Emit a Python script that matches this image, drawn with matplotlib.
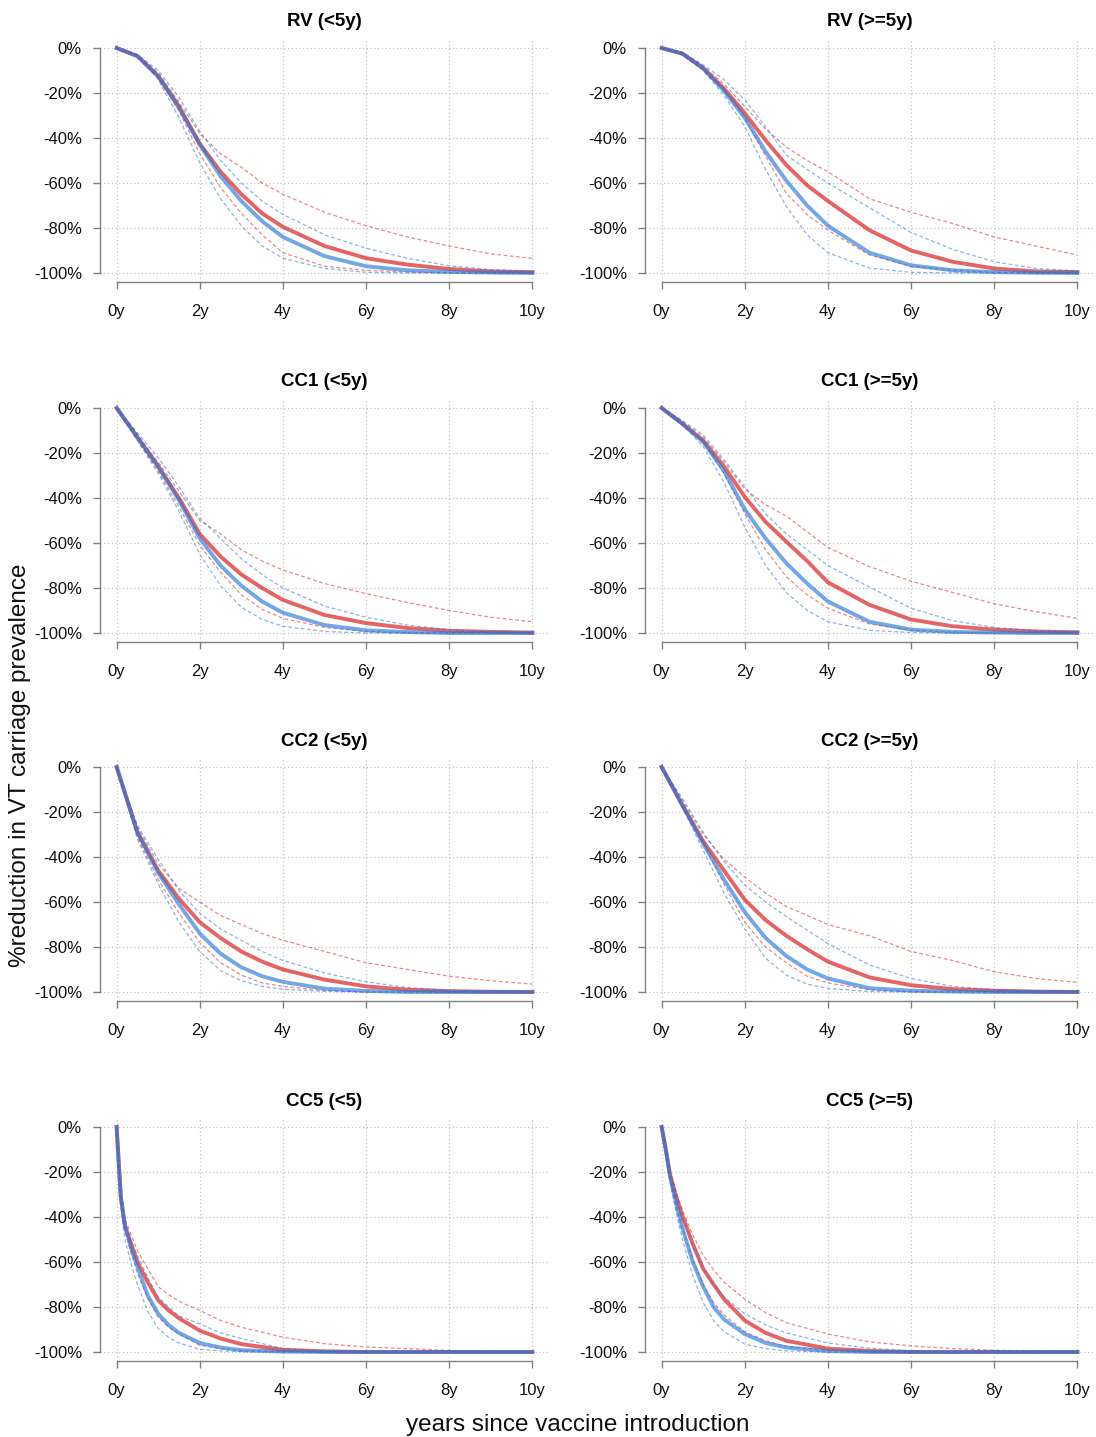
import matplotlib
matplotlib.use('Agg')
import matplotlib.pyplot as plt

plt.rcParams['font.family'] = ['Liberation Sans', 'DejaVu Sans']

# x positions (years) at which the curves were read
years = [0, 0.5, 1, 1.5, 2, 2.5, 3, 3.5, 4, 5, 6, 7, 8, 9, 10]
years_cc5 = [0, 0.1, 0.2, 0.35, 0.5, 0.75, 1, 1.25, 1.5, 2, 2.5, 3, 4, 5, 6, 7, 8, 10]

x_ticks = [0, 2, 4, 6, 8, 10]
x_ticklabels = ['0y', '2y', '4y', '6y', '8y', '10y']
y_ticks = [0, -20, -40, -60, -80, -100]
y_ticklabels = ['0%', '-20%', '-40%', '-60%', '-80%', '-100%']

titles = ['RV (<5y)', 'RV (>=5y)', 'CC1 (<5y)', 'CC1 (>=5y)',
          'CC2 (<5y)', 'CC2 (>=5y)', 'CC5 (<5)', 'CC5 (>=5)']

# RV (<5y)
rv_u5_red = [0, -3.6, -12.5, -26, -42.5, -55, -65, -73.5, -79.5, -88, -93.4, -96.3, -98.2, -99.3, -99.6]
rv_u5_red_hi = [0, -3, -11, -24, -38, -47, -53, -60, -65, -73, -79, -84, -88, -91.5, -93.5]
rv_u5_red_lo = [0, -3.5, -13, -28, -47, -62, -73.5, -83, -91, -97, -98.8, -99.6, -99.9, -100, -100]
rv_u5_blue = [0, -3.6, -12.5, -26.5, -43, -57, -68, -77, -84, -92.5, -97, -98.8, -99.5, -99.8, -100]
rv_u5_blue_hi = [0, -3, -10, -22, -37, -50, -60, -68, -74, -83, -89, -93.5, -96.8, -98.5, -99.3]
rv_u5_blue_lo = [0, -3.5, -14, -31, -51, -67, -79, -88, -93.4, -98, -99.7, -100, -100, -100, -100]

# RV (>=5y)
rv_o5_red = [0, -2.5, -9, -18, -29, -41, -52, -61, -68, -81, -90, -95, -98, -99.3, -99.6]
rv_o5_red_hi = [0, -2, -8, -16, -26, -36, -44, -50, -55, -67, -73, -78, -84, -88, -92]
rv_o5_red_lo = [0, -2.5, -9.5, -19, -31, -48, -64.6, -74, -81, -92, -97, -98.8, -99.7, -100, -100]
rv_o5_blue = [0, -2.5, -9, -19, -31, -46, -59, -70, -79, -91, -96.6, -98.8, -99.6, -99.9, -100]
rv_o5_blue_hi = [0, -2, -7.5, -14, -23, -35, -47.6, -54, -60, -71, -82, -89.5, -95, -98, -99]
rv_o5_blue_lo = [0, -3, -10, -21, -35, -54, -70.5, -83, -91, -97.8, -99.7, -100, -100, -100, -100]

# CC1 (<5y)
cc1_u5_red = [0, -13, -26, -40, -56, -66, -74, -80, -85.3, -92, -95.6, -97.8, -99, -99.5, -99.8]
cc1_u5_red_hi = [0, -12, -24, -37, -50, -56, -63, -68, -72, -78, -82.5, -86.5, -90, -93, -95]
cc1_u5_red_lo = [0, -14, -28, -44, -61, -73, -83, -89.5, -93.5, -97.5, -99.3, -99.8, -100, -100, -100]
cc1_u5_blue = [0, -13, -26, -41, -58, -70, -79, -86, -91, -96.5, -98.8, -99.6, -100, -100, -100]
cc1_u5_blue_hi = [0, -11, -22, -35, -49, -58, -67, -74, -80, -88, -93, -96.5, -98.5, -99.5, -99.8]
cc1_u5_blue_lo = [0, -14.5, -29, -46, -65, -79, -88.5, -94, -97, -99.3, -100, -100, -100, -100, -100]

# CC1 (>=5y)
cc1_o5_red = [0, -7, -14.5, -26, -39.5, -50.6, -59.4, -68, -77.5, -87.5, -94, -97, -98.5, -99.3, -99.7]
cc1_o5_red_hi = [0, -6, -13, -24, -36, -43, -48, -55, -62, -70.5, -77, -82, -87, -90.5, -93.5]
cc1_o5_red_lo = [0, -7, -15, -29, -47, -63, -75, -83, -89, -96, -98.8, -99.6, -100, -100, -100]
cc1_o5_blue = [0, -7, -15, -28, -45, -58, -69, -78, -86, -95, -98.5, -99.5, -99.8, -100, -100]
cc1_o5_blue_hi = [0, -5.5, -12, -23, -35, -47, -56, -63, -70, -79.6, -89, -94.5, -97.5, -99, -99.5]
cc1_o5_blue_lo = [0, -7.5, -17, -33, -53, -70, -82, -90, -95, -98.8, -99.8, -100, -100, -100, -100]

# CC2 (<5y)
cc2_u5_red = [0, -29, -46, -58.5, -69, -76, -82, -86.5, -90, -94.5, -97.5, -99, -99.6, -99.9, -100]
cc2_u5_red_hi = [0, -27, -43, -54, -60, -66, -70, -74, -77, -82, -87, -90, -93, -95, -96.5]
cc2_u5_red_lo = [0, -31, -50, -65, -78, -87, -92.5, -96, -97.5, -99.3, -100, -100, -100, -100, -100]
cc2_u5_blue = [0, -29, -47, -61, -74, -83, -89, -93, -95.5, -98.5, -99.5, -100, -100, -100, -100]
cc2_u5_blue_hi = [0, -26, -41, -55, -65, -72, -77, -82, -86, -91.5, -95.5, -98, -99.3, -99.8, -100]
cc2_u5_blue_lo = [0, -32, -52, -69, -82, -90.5, -95, -97.5, -98.8, -99.7, -100, -100, -100, -100, -100]

# CC2 (>=5y)
cc2_o5_red = [0, -17, -33, -46, -59, -68, -75, -81, -86.5, -93.5, -97, -98.7, -99.4, -99.8, -100]
cc2_o5_red_hi = [0, -15, -30, -41, -49, -56, -62, -66, -70, -75, -82, -86, -91, -94, -95.7]
cc2_o5_red_lo = [0, -17, -34, -52, -69, -80, -87, -93, -96, -99, -99.8, -100, -100, -100, -100]
cc2_o5_blue = [0, -17, -34, -50, -64.5, -76, -84, -90, -94, -98.3, -99.4, -99.8, -100, -100, -100]
cc2_o5_blue_hi = [0, -14, -29, -42, -52.5, -60, -66.5, -72.5, -78.5, -88, -94, -97.5, -99, -99.6, -100]
cc2_o5_blue_lo = [0, -18, -37, -56, -72, -85, -92.5, -96.5, -98.4, -99.8, -100, -100, -100, -100, -100]

# CC5 (<5)
cc5_u5_red = [0, -31, -44, -52, -60, -69, -77, -81.5, -85, -90.5, -94, -96.5, -99, -99.7, -100, -100, -100, -100]
cc5_u5_red_hi = [0, -29, -41, -48, -55, -63, -71, -74.5, -77.5, -81.5, -86, -89, -93.4, -96.3, -97.8, -98.5, -99.3, -100]
cc5_u5_red_lo = [0, -32, -46, -56, -65, -76, -84.5, -89, -92, -97, -98.5, -99.3, -99.8, -100, -100, -100, -100, -100]
cc5_u5_blue = [0, -31, -44, -54, -62, -75, -83, -88, -91.5, -96, -98, -99.2, -99.8, -100, -100, -100, -100, -100]
cc5_u5_blue_hi = [0, -30, -42, -51, -57, -67, -75.5, -80, -84, -87.5, -91.5, -94, -98.5, -99.6, -100, -100, -100, -100]
cc5_u5_blue_lo = [0, -35, -50, -61, -70, -82, -89.5, -93.5, -96, -98.8, -99.5, -99.8, -100, -100, -100, -100, -100, -100]

# CC5 (>=5)
cc5_o5_red = [0, -10, -21, -31, -39.5, -52, -63, -70, -76.5, -86, -91.5, -95, -98.5, -99.5, -100, -100, -100, -100]
cc5_o5_red_hi = [0, -9, -19, -29, -37, -48, -57, -63.5, -69, -76.5, -82.5, -87, -92, -95.5, -97.3, -98.5, -99.2, -100]
cc5_o5_red_lo = [0, -11, -23, -35, -45, -59, -70, -78, -83.5, -91, -95, -97.5, -99.3, -100, -100, -100, -100, -100]
cc5_o5_blue = [0, -10, -22, -34, -45, -60, -71, -80, -85.5, -92, -96, -98, -99.6, -100, -100, -100, -100, -100]
cc5_o5_blue_hi = [0, -9, -20, -31, -40, -53, -63, -70, -75.5, -83, -88, -91.5, -96, -98.3, -99.5, -100, -100, -100]
cc5_o5_blue_lo = [0, -11, -24, -38, -50, -66, -78, -86, -91, -96.5, -98.5, -99.5, -100, -100, -100, -100, -100, -100]

panels = [
    (years, rv_u5_red, rv_u5_red_hi, rv_u5_red_lo, rv_u5_blue, rv_u5_blue_hi, rv_u5_blue_lo),
    (years, rv_o5_red, rv_o5_red_hi, rv_o5_red_lo, rv_o5_blue, rv_o5_blue_hi, rv_o5_blue_lo),
    (years, cc1_u5_red, cc1_u5_red_hi, cc1_u5_red_lo, cc1_u5_blue, cc1_u5_blue_hi, cc1_u5_blue_lo),
    (years, cc1_o5_red, cc1_o5_red_hi, cc1_o5_red_lo, cc1_o5_blue, cc1_o5_blue_hi, cc1_o5_blue_lo),
    (years, cc2_u5_red, cc2_u5_red_hi, cc2_u5_red_lo, cc2_u5_blue, cc2_u5_blue_hi, cc2_u5_blue_lo),
    (years, cc2_o5_red, cc2_o5_red_hi, cc2_o5_red_lo, cc2_o5_blue, cc2_o5_blue_hi, cc2_o5_blue_lo),
    (years_cc5, cc5_u5_red, cc5_u5_red_hi, cc5_u5_red_lo, cc5_u5_blue, cc5_u5_blue_hi, cc5_u5_blue_lo),
    (years_cc5, cc5_o5_red, cc5_o5_red_hi, cc5_o5_red_lo, cc5_o5_blue, cc5_o5_blue_hi, cc5_o5_blue_lo),
]

red = (0.86, 0.16, 0.16)
blue = (0.16, 0.47, 0.86)

W, H = 1096.0, 1437.0
col_left = [100, 645]
row_zero = [48, 408, 767, 1127]   # pixel row of the 0% tick

fig = plt.figure(figsize=(W / 100, H / 100), dpi=100)

for i, (xs, r, r_hi, r_lo, b, b_hi, b_lo) in enumerate(panels):
    row, col = divmod(i, 2)
    bottom = 1 - (row_zero[row] + 234) / H
    ax = fig.add_axes([col_left[col] / W, bottom, 449 / W, 243 / H])

    for ys in (r_hi, r_lo):
        ax.plot(xs, ys, color=red, alpha=0.55, lw=0.9, dashes=(3, 2))
    ax.plot(xs, r, color=red, alpha=0.72, lw=2.8, solid_joinstyle='round')
    for ys in (b_hi, b_lo):
        ax.plot(xs, ys, color=blue, alpha=0.55, lw=0.9, dashes=(3, 2))
    ax.plot(xs, b, color=blue, alpha=0.65, lw=2.8, solid_joinstyle='round')

    ax.set_xlim(-0.4, 10.4)
    ax.set_ylim(-104, 4)
    ax.set_xticks(x_ticks)
    ax.set_xticklabels(x_ticklabels)
    ax.set_yticks(y_ticks)
    ax.set_yticklabels(y_ticklabels)
    ax.grid(True, ls=(0, (1, 2)), color='#c4c4c4', lw=0.9)
    ax.set_axisbelow(True)

    for s in ('top', 'right'):
        ax.spines[s].set_visible(False)
    ax.spines['left'].set_bounds(-100, 0)
    ax.spines['bottom'].set_bounds(0, 10)
    for s in ('left', 'bottom'):
        ax.spines[s].set_color('#808080')
        ax.spines[s].set_linewidth(1.0)
    ax.tick_params(axis='both', length=5, width=1, color='#808080',
                   labelsize=12, labelcolor='#111111')
    ax.tick_params(axis='y', pad=8)
    ax.tick_params(axis='x', pad=11)
    ax.set_title(titles[i], fontsize=13.5, fontweight='bold', pad=9)

fig.text(20 / W, 1 - 765 / H, '%reduction in VT carriage prevalence',
         rotation=90, ha='center', va='center', fontsize=17.5, color='#111111')
fig.text(578 / W, 1 - 1425 / H, 'years since vaccine introduction',
         ha='center', va='center', fontsize=17.5, color='#111111')

fig.savefig('out.png', dpi=100)
